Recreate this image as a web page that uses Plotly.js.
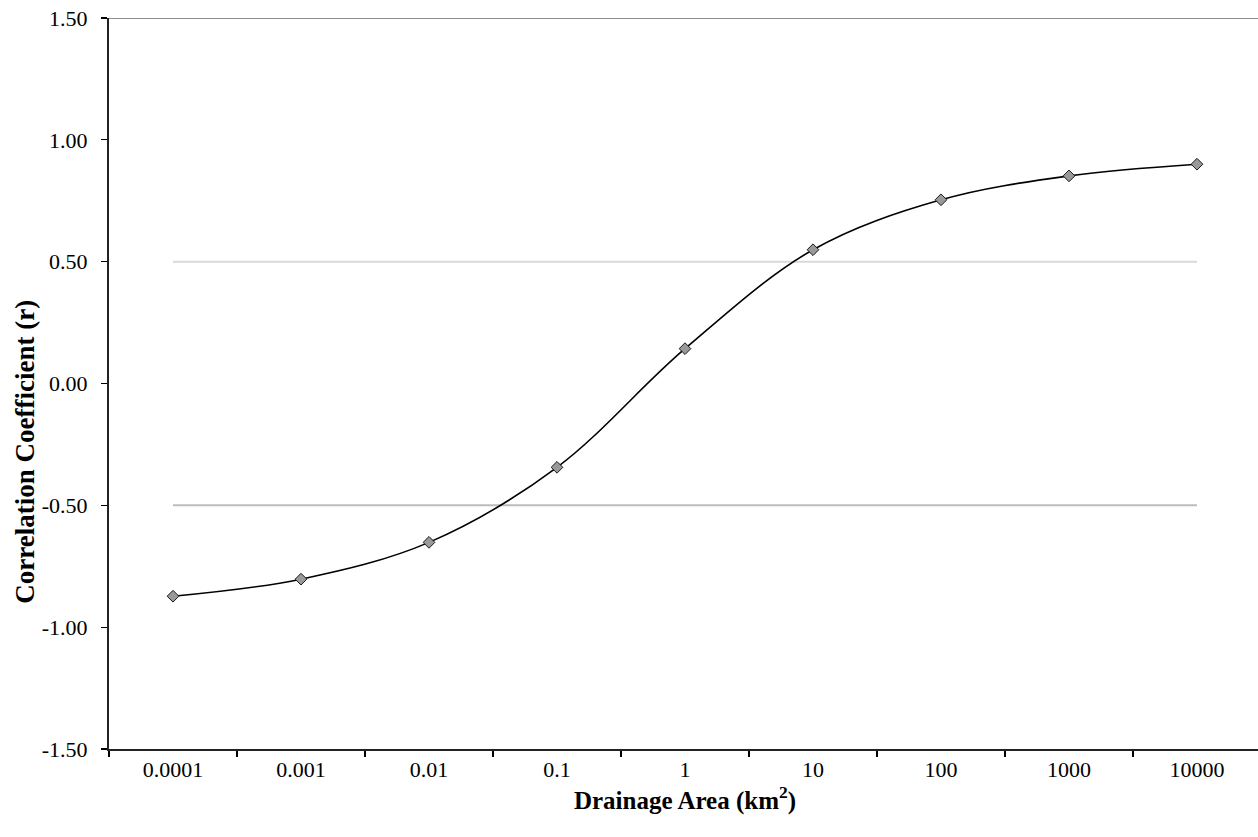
<!DOCTYPE html>
<html>
<head>
<meta charset="utf-8">
<script src="https://cdn.plot.ly/plotly-3.0.1.min.js"></script>
<style>
html,body{margin:0;padding:0;overflow:hidden;background:#fff;}
#chart{width:1262px;height:837px;}
</style>
</head>
<body>
<div id="chart"></div>
<script>
const categories = ["0.0001","0.001","0.01","0.1","1","10","100","1000","10000"];
const correlation = [-0.873,-0.803,-0.652,-0.344,0.143,0.549,0.754,0.852,0.90];
const upperRef = [0.5,0.5];
const lowerRef = [-0.5,-0.5];
const refX = [categories[0], categories[categories.length-1]];
const yTickVals = [-1.5,-1.0,-0.5,0,0.5,1.0,1.5];
const yTickText = ["-1.50","-1.00","-0.50","0.00","0.50","1.00","1.50"];
const xTitle = 'Drainage Area (km<sup>2</sup>)';
const yTitle = 'Correlation Coefficient (r)';

const font = "'Liberation Serif','Times New Roman',serif";

const traces = [
  {x: refX, y: upperRef, mode:'lines', line:{color:'#d9d9d9', width:2}, hoverinfo:'skip'},
  {x: refX, y: lowerRef, mode:'lines', line:{color:'#bcbcbc', width:2}, hoverinfo:'skip'},
  {x: categories, y: correlation, mode:'lines+markers',
   line:{color:'#000', width:1.6, shape:'spline', smoothing:1},
   marker:{symbol:'diamond', size:9, color:'#999999', line:{color:'#1a1a1a', width:1}}}
];

const layout = {
  width:1262, height:837,
  margin:{l:109, r:1, t:18, b:88},
  paper_bgcolor:'#fff', plot_bgcolor:'#fff',
  showlegend:false,
  font:{family:font, color:'#000', size:22},
  xaxis:{
    type:'category', categoryorder:'array', categoryarray:categories,
    range:[-0.5, 8.5], tickson:'boundaries',
    ticks:'outside', ticklen:6, tickwidth:1.3, tickcolor:'#000',
    showline:true, linecolor:'#222', linewidth:2,
    showgrid:false, zeroline:false,
    tickfont:{family:font, size:22, color:'#000'},
    title:{text:xTitle, font:{family:font, size:25, color:'#000', weight:'bold'}, standoff:9}
  },
  yaxis:{
    range:[-1.5,1.5], tickmode:'array', tickvals:yTickVals, ticktext:yTickText,
    ticks:'outside', ticklen:6, tickwidth:1.3, tickcolor:'#000',
    showline:true, linecolor:'#222', linewidth:2,
    showgrid:false, zeroline:false, ticklabelstandoff:9,
    tickfont:{family:font, size:22, color:'#000'}
  },
  annotations:[
    {text:yTitle, xref:'paper', yref:'y', x:-0.073, y:-0.28, xanchor:'center', yanchor:'middle',
     textangle:-90, showarrow:false, font:{family:font, size:27, color:'#000', weight:'bold'}}
  ],
  shapes:[
    {type:'line', xref:'paper', yref:'y', x0:0, x1:1, y0:1.5, y1:1.5, line:{color:'#8c8c8c', width:2}}
  ]
};

Plotly.newPlot('chart', traces, layout, {displayModeBar:false, staticPlot:true});
</script>
</body>
</html>
